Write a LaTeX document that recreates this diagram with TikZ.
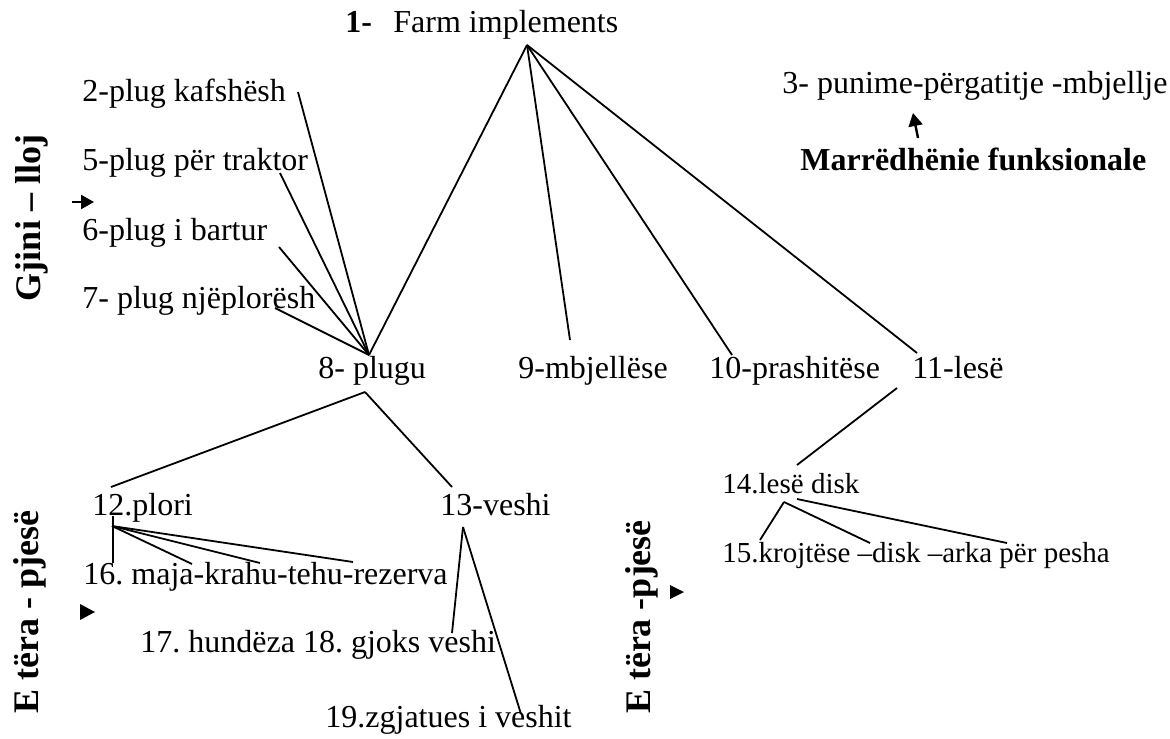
\documentclass[tikz,border=0pt]{standalone}
\usepackage{fontspec}
\setmainfont{Liberation Serif}
\usetikzlibrary{arrows.meta}
\frenchspacing
\begin{document}
\begin{tikzpicture}[x=0.5pt,y=-0.5pt,
  lbl/.style={anchor=base west,inner sep=0pt,font=\fontsize{16}{19}\selectfont},
  slbl/.style={anchor=base west,inner sep=0pt,font=\fontsize{14.5}{17}\selectfont},
  blbl/.style={lbl,font=\fontsize{16}{19}\selectfont\bfseries},
  vlbl/.style={anchor=center,inner sep=0pt,rotate=90,font=\fontsize{18}{21}\selectfont\bfseries},
  conn/.style={line width=0.9pt},
  arr/.style={line width=1.2pt,-{Triangle[length=6.5pt,width=7pt]}},
  tri/.style={fill=black}]
\useasboundingbox (0,0) rectangle (1170,738);
% texts
\node[blbl] (n1a) at (345,33) {1-};
\node[lbl] (n1) at (393,33) {Farm implements};
\node[lbl] (n2) at (82,102) {2-plug kafshësh};
\node[lbl] (n5) at (82,170) {5-plug për traktor};
\node[lbl] (n6) at (82,240) {6-plug i bartur};
\node[lbl] (n7) at (82,308) {7- plug njëplorësh};
\node[lbl] (n8) at (318,378) {8- plugu};
\node[lbl] (n9) at (518,378) {9-mbjellëse};
\node[lbl] (n10) at (709,378) {10-prashitëse};
\node[lbl] (n11) at (912,378) {11-lesë};
\node[lbl] (n3) at (782,93) {3- punime-përgatitje -mbjellje};
\node[blbl] (mf) at (800,170) {Marrëdhënie funksionale};
\node[lbl] (n12) at (92,515) {12.plori};
\node[lbl] (n13) at (440,515) {13-veshi};
\node[lbl] (n16) at (83,584) {16. maja-krahu-tehu-rezerva};
\node[lbl] (n17) at (140,652) {17. hundëza 18. gjoks veshi};
\node[lbl] (n19) at (325,727) {19.zgjatues i veshit};
\node[slbl] (n14) at (722,493) {14.lesë disk};
\node[slbl] (n15) at (722,562) {15.krojtëse –disk –arka për pesha};
\node[vlbl] (gj) at (32,218) {Gjini – lloj};
\node[vlbl] (et1) at (30,612) {E tëra - pjesë};
\node[vlbl] (et2) at (642,617) {E tëra -pjesë};
% connector points
\coordinate (c1) at (527,45);
\coordinate (c8t) at (369,355);
\coordinate (c9) at (570,340);
\coordinate (c10) at (732,355);
\coordinate (c11) at (917,353);
\coordinate (c2) at (298,92);
\coordinate (c5) at (280,173);
\coordinate (c6) at (279,247);
\coordinate (c7) at (275,308);
\coordinate (c8b) at (365,392);
\coordinate (c12t) at (111,487);
\coordinate (c13t) at (452,487);
\coordinate (c12a) at (112,526);
\coordinate (c12v) at (113,516);
\coordinate (c16a) at (113,563);
\coordinate (c16b) at (192,564);
\coordinate (c16c) at (260,563);
\coordinate (c16d) at (353,562);
\coordinate (c13a) at (463,527);
\coordinate (c17) at (452,633);
\coordinate (c19) at (521,714);
\coordinate (c11b) at (897,388);
\coordinate (c14t) at (797,465);
\coordinate (c14a) at (784,502);
\coordinate (c14b) at (797,499);
\coordinate (c15a) at (760,540);
\coordinate (c15b) at (870,543);
\coordinate (c15c) at (1007,543);
\coordinate (a3s) at (918,138);
\coordinate (a3e) at (913,113);
\coordinate (ags) at (72,202);
\coordinate (age) at (94,202);
% connectors
\draw[conn] (c1) -- (c8t);
\draw[conn] (c1) -- (c9);
\draw[conn] (c1) -- (c10);
\draw[conn] (c1) -- (c11);
\draw[conn] (c2) -- (c8t);
\draw[conn] (c5) -- (c8t);
\draw[conn] (c6) -- (c8t);
\draw[conn] (c7) -- (c8t);
\draw[conn] (c8b) -- (c12t);
\draw[conn] (c8b) -- (c13t);
\draw[conn] (c12v) -- (c16a);
\draw[conn] (c12a) -- (c16b);
\draw[conn] (c12a) -- (c16c);
\draw[conn] (c12a) -- (c16d);
\draw[conn] (c13a) -- (c17);
\draw[conn] (c13a) -- (c19);
\draw[conn] (c11b) -- (c14t);
\draw[conn] (c14a) -- (c15a);
\draw[conn] (c14a) -- (c15b);
\draw[conn] (c14b) -- (c15c);
\draw[arr] (a3s) -- (a3e);
\draw[arr] (ags) -- (age);
% small triangles
\fill[tri] (80,604) -- (95,612) -- (80,620) -- cycle;
\fill[tri] (670,585) -- (684,592) -- (670,599) -- cycle;
\end{tikzpicture}
\end{document}
